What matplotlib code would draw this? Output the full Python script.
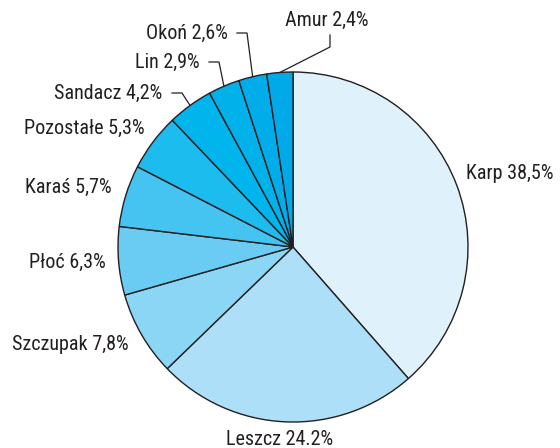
import numpy as np
import matplotlib
matplotlib.use('Agg')
import matplotlib.pyplot as plt

# data
labels = ['Karp', 'Leszcz', 'Szczupak', 'Płoć', 'Karaś', 'Pozostałe',
          'Sandacz', 'Lin', 'Okoń', 'Amur']
shares = [38.5, 24.2, 7.8, 6.3, 5.7, 5.3, 4.2, 2.9, 2.6, 2.4]
texts = ['Karp 38,5%', 'Leszcz 24.2%', 'Szczupak 7,8%', 'Płoć 6,3%', 'Karaś 5,7%',
         'Pozostałe 5,3%', 'Sandacz 4,2%', 'Lin 2,9%', 'Okoń 2,6%', 'Amur 2,4%']
colors = ['#dff2fb', '#addff8', '#8bd5f5', '#6bccf3', '#45c3f1', '#1dbcee',
          '#00b5ec', '#00b1ea', '#00adea', '#00aae8']

plt.rcParams['font.family'] = ['Roboto Condensed', 'DejaVu Sans']

fig = plt.figure(figsize=(5.6, 4.48), dpi=100)
ax = fig.add_axes([0, 0, 1, 1])

cx, cy, r = 293, 201, 175
wedges, _ = ax.pie(shares, colors=colors, startangle=90, counterclock=False,
                   center=(cx, cy), radius=r,
                   wedgeprops=dict(edgecolor='#231f20', linewidth=1.0))
ax.set_xlim(0, 560)
ax.set_ylim(0, 448)
ax.set_aspect('equal')
ax.axis('off')

# label placement (pixel layout, y up)
pos = {
    'Karp': (510, 275),
    'Leszcz': (280, 9),
    'Szczupak': (70, 104),
    'Płoć': (67, 186),
    'Karaś': (68, 261),
    'Pozostałe': (84, 320),
    'Sandacz': (108, 355),
    'Lin': (167, 386),
    'Okoń': (187, 415),
    'Amur': (327, 428),
}
for name, t in zip(labels, texts):
    x, y = pos[name]
    ax.text(x, y, t, ha='center', va='center', fontsize=14.5, color='#231f20')

# leader lines: elbow points, then to the wedge edge
elbows = {
    'Sandacz': [(172, 355), (182, 355)],
    'Lin': [(209, 386), (219, 386)],
    'Okoń': [(237, 415), (247, 415)],
    'Amur': [(330, 413), (330, 401)],
}
for w, name in zip(wedges, labels):
    if name not in elbows:
        continue
    mid = np.deg2rad((w.theta1 + w.theta2) / 2)
    ex, ey = cx + r * np.cos(mid), cy + r * np.sin(mid)
    pts = elbows[name] + [(ex, ey)]
    ax.plot([p[0] for p in pts], [p[1] for p in pts], color='#231f20', lw=0.9)

fig.savefig('out.png', dpi=100)
